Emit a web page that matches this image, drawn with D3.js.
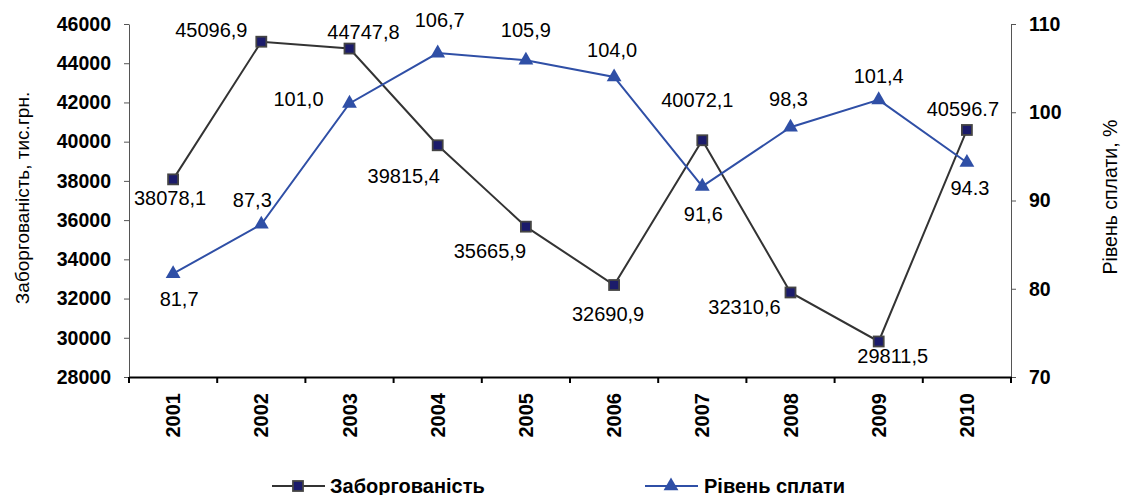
<!DOCTYPE html>
<html><head><meta charset="utf-8">
<script src="https://cdn.jsdelivr.net/npm/d3@7"></script>
<style>
html,body{margin:0;padding:0;background:#fff;}
svg{display:block;font-family:"Liberation Sans",Arial,sans-serif;}
</style></head>
<body><svg id="c" width="1122" height="495"></svg>
<script>
const years = ["2001","2002","2003","2004","2005","2006","2007","2008","2009","2010"];
const debt = [38078.1,45096.9,44747.8,39815.4,35665.9,32690.9,40072.1,32310.6,29811.5,40596.7];
const debtLabels = ["38078,1","45096,9","44747,8","39815,4","35665,9","32690,9","40072,1","32310,6","29811,5","40596.7"];
const payRate = [81.7,87.3,101.0,106.7,105.9,104.0,91.6,98.3,101.4,94.3];
const payLabels = ["81,7","87,3","101,0","106,7","105,9","104,0","91,6","98,3","101,4","94.3"];
const leftTicks = [28000,30000,32000,34000,36000,38000,40000,42000,44000,46000];
const rightTicks = [70,80,90,100,110];
const seriesNames = ["Заборгованість","Рівень сплати"];
const axisTitles = ["Заборгованість, тис.грн.","Рівень сплати, %"];

// label offsets (layout only): [dx, dy] of label centre from its point
const debtOff = [[-3,19],[-50,-12],[14,-17],[-34,31],[-36,24],[-6,29],[-5,-40],[-46,15],[14,15],[-4,-21]];
const payOff = [[6,25],[-9,-24],[-51,-4],[2,-33],[0,-30],[-2,-27],[1,28],[-2,-28],[0,-24],[3,25]];

const svg = d3.select("#c");
const L=129, R=1011, T=24, B=377;
const x = d3.scaleBand().domain(years).range([L,R]);
const yL = d3.scaleLinear().domain([28000,46000]).range([B,T]);
const yR = d3.scaleLinear().domain([70,110]).range([B,T]);
const cx = d => x(d)+x.bandwidth()/2;

// left axis
const ga = svg.append("g").attr("transform",`translate(${L},0)`)
  .call(d3.axisLeft(yL).tickValues(leftTicks).tickFormat(d3.format("d")).tickSize(5).tickSizeOuter(0));
ga.select(".domain").attr("stroke","#555");
ga.selectAll(".tick line").attr("stroke","#555");
ga.selectAll("text").attr("font-size","19.5px").attr("font-weight","bold").attr("fill","#000").attr("x",-18);

// right axis
const gr = svg.append("g").attr("transform",`translate(${R},0)`)
  .call(d3.axisRight(yR).tickValues(rightTicks).tickSize(5).tickSizeOuter(0));
gr.select(".domain").attr("stroke","#555");
gr.selectAll(".tick line").attr("stroke","#555");
gr.selectAll("text").attr("font-size","19.5px").attr("font-weight","bold").attr("fill","#000").attr("x",18);

// bottom axis
const gb = svg.append("g").attr("transform",`translate(0,${B})`)
  .call(d3.axisBottom(x).tickSize(0).tickSizeOuter(0));
gb.select(".domain").attr("stroke","#000").attr("stroke-width",2);
gb.selectAll("text").attr("font-size","20px").attr("font-weight","bold").attr("fill","#000")
  .attr("transform","rotate(-90)").attr("text-anchor","end").attr("x",-16).attr("y",0).attr("dy","0.35em");
const bounds = years.map(d=>x(d)).concat([R]);
svg.append("g").selectAll("line").data(bounds).join("line")
  .attr("x1",d=>d).attr("x2",d=>d).attr("y1",B).attr("y2",B+6).attr("stroke","#000").attr("stroke-width",2);

// axis titles
svg.append("text").attr("transform",`translate(29,198) rotate(-90)`).attr("text-anchor","middle")
  .attr("font-size","19px").text(axisTitles[0]);
svg.append("text").attr("transform",`translate(1117,197) rotate(-90)`).attr("text-anchor","middle")
  .attr("font-size","19.5px").text(axisTitles[1]);

const blue = "#2f4fa6";
svg.append("path").datum(debt).attr("fill","none").attr("stroke","#333").attr("stroke-width",2)
  .attr("d",d3.line().x((d,i)=>cx(years[i])).y(d=>yL(d)));
svg.append("path").datum(payRate).attr("fill","none").attr("stroke",blue).attr("stroke-width",2)
  .attr("d",d3.line().x((d,i)=>cx(years[i])).y(d=>yR(d)));

const tri = d3.symbol().type(d3.symbolTriangle).size(95);
svg.append("g").selectAll("rect").data(debt).join("rect")
  .attr("x",(d,i)=>cx(years[i])-5).attr("y",d=>yL(d)-5).attr("width",10).attr("height",10)
  .attr("fill","#1b1b6b").attr("stroke","#444").attr("stroke-width",1.8);
svg.append("g").selectAll("path").data(payRate).join("path")
  .attr("d",tri).attr("transform",(d,i)=>`translate(${cx(years[i])},${yR(d)})`).attr("fill",blue);

// labels
svg.append("g").selectAll("text").data(debt).join("text")
  .attr("x",(d,i)=>cx(years[i])+debtOff[i][0]).attr("y",(d,i)=>yL(d)+debtOff[i][1])
  .attr("text-anchor","middle").attr("dy","0.35em").attr("font-size","20px").attr("fill","#000")
  .text((d,i)=>debtLabels[i]);
svg.append("g").selectAll("text").data(payRate).join("text")
  .attr("x",(d,i)=>cx(years[i])+payOff[i][0]).attr("y",(d,i)=>yR(d)+payOff[i][1])
  .attr("text-anchor","middle").attr("dy","0.35em").attr("font-size","20px").attr("fill","#000")
  .text((d,i)=>payLabels[i]);

// legend
const ly = 486;
const lg1 = svg.append("g");
lg1.append("line").attr("x1",272).attr("x2",325).attr("y1",ly).attr("y2",ly).attr("stroke","#333").attr("stroke-width",2);
lg1.append("rect").attr("x",293).attr("y",ly-5).attr("width",10).attr("height",10).attr("fill","#1b1b6b").attr("stroke","#444").attr("stroke-width",1.8);
lg1.append("text").attr("x",330).attr("y",ly).attr("dy","0.35em").attr("font-size","20px").attr("font-weight","bold").text(seriesNames[0]);
const lg2 = svg.append("g");
lg2.append("line").attr("x1",645).attr("x2",698).attr("y1",ly).attr("y2",ly).attr("stroke",blue).attr("stroke-width",2);
lg2.append("path").attr("d",tri).attr("transform",`translate(671,${ly})`).attr("fill",blue);
lg2.append("text").attr("x",704).attr("y",ly).attr("dy","0.35em").attr("font-size","20px").attr("font-weight","bold").text(seriesNames[1]);
</script></body></html>
